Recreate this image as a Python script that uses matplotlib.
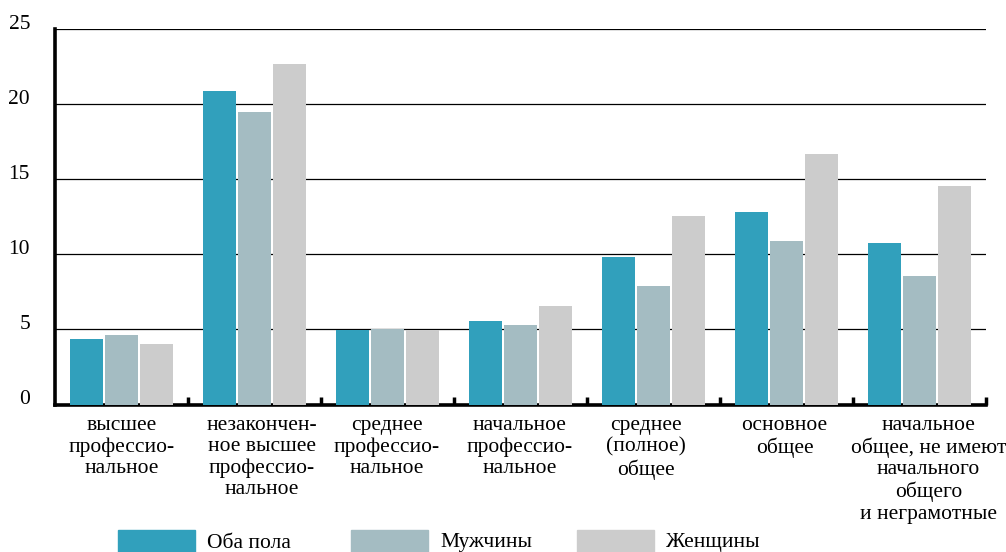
import matplotlib
matplotlib.use("Agg")
import matplotlib.pyplot as plt
from matplotlib.patches import Rectangle
from matplotlib.transforms import offset_copy
import numpy as np

categories = [
    "высшее\nпрофессио-\nнальное",
    "незакончен-\nное высшее\nпрофессио-\nнальное",
    "среднее\nпрофессио-\nнальное",
    "начальное\nпрофессио-\nнальное",
    "среднее\n(полное)\nобщее",
    "основное\nобщее",
    "начальное\nобщее, не имеют\nначального\nобщего\nи неграмотные",
]
series_names = ["Оба пола", "Мужчины", "Женщины"]
both = [4.35, 20.9, 4.95, 5.55, 9.8, 12.8, 10.75]
men = [4.6, 19.5, 5.05, 5.3, 7.9, 10.9, 8.55]
women = [4.05, 22.7, 4.95, 6.55, 12.55, 16.65, 14.55]
colors = ["#31A0BC", "#A4BCC2", "#CCCCCC"]
yticks = [0, 5, 10, 15, 20, 25]

plt.rcParams['font.family'] = 'serif'
plt.rcParams['font.serif'] = ['Liberation Serif', 'DejaVu Serif']
FS = 15.5

fig = plt.figure(figsize=(10.06, 5.52), dpi=100)
ax = fig.add_axes([55/1006, 147.5/552, 931/1006, 375.5/552])

x = np.arange(len(categories)) + 0.5
w = 0.248
step = 0.265
for i, (vals, c) in enumerate(zip([both, men, women], colors)):
    ax.bar(x + (i - 1) * step, vals, width=w, color=c, zorder=3)

ax.set_xlim(0, len(categories))
ax.set_ylim(0, 25)
ax.set_yticks(yticks)
ax.set_yticklabels([str(t) for t in yticks], fontsize=FS)
for t in yticks[1:]:
    ax.axhline(t, color="black", lw=0.9, zorder=1)
ax.tick_params(axis='y', length=0, pad=18)
for lbl in ax.get_yticklabels():
    lbl.set_verticalalignment('baseline')

ax.set_xticks(np.arange(1, len(categories) + 1))
ax.set_xticklabels([])
ax.tick_params(axis='x', direction='in', length=6, width=2.5, color='black')
label_dx = [0, 7, -1, -1, -8, -2, 9]  # pixel nudges of the category labels
for i, lab in enumerate(categories):
    tr = offset_copy(ax.transData, fig=fig, x=label_dx[i], y=0, units='dots')
    ax.text(x[i], -0.75, lab, ha='center', va='top', fontsize=FS,
            linespacing=1.17, transform=tr)

for s in ['top', 'right']:
    ax.spines[s].set_visible(False)
ax.spines['left'].set_linewidth(2.6)
ax.spines['bottom'].set_linewidth(2.6)

# legend
leg_x = [118, 351, 577]
for px, name, c in zip(leg_x, series_names, colors):
    fig.patches.append(Rectangle((px/1006, 0), 77/1006, 22/552,
                                 transform=fig.transFigure, color=c))
    fig.text((px + 89)/1006, 9/552, name, fontsize=FS, va='center', ha='left')

fig.savefig("out.png", dpi=100)
